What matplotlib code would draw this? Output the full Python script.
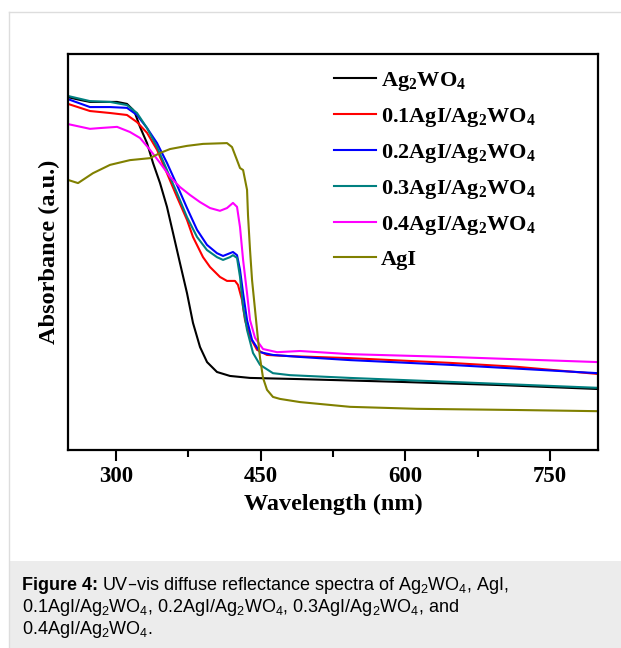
import matplotlib
matplotlib.use("Agg")
import matplotlib.pyplot as plt
from matplotlib.patches import Rectangle
from matplotlib.lines import Line2D
from matplotlib.ticker import MultipleLocator

# --- data (absorbance in arbitrary units 0..1) ---
wl_ag2wo4 = [250, 262.5, 272.8, 293.6, 300.9, 311.2, 317.5, 319.5, 324.7, 332.0, 338.2, 345.5, 352.7, 359.0,
             366.2, 373.5, 379.7, 387.0, 394.3, 404.6, 418.1, 438.9, 490.8, 594.5, 698.3, 800]
ab_ag2wo4 = [0.891, 0.884, 0.879, 0.879, 0.879, 0.874, 0.859, 0.851, 0.816, 0.775, 0.725, 0.674, 0.614, 0.548,
             0.472, 0.396, 0.321, 0.260, 0.222, 0.197, 0.187, 0.182, 0.179, 0.172, 0.164, 0.154]

wl_01 = [250, 272.8, 293.6, 311.2, 321.6, 332.0, 342.4, 352.7, 363.1, 373.5, 379.7, 390.1, 397.4, 407.7,
         415.0, 423.3, 426.4, 430.6, 433.7, 438.9, 446.1, 456.5, 480.4, 542.7, 646.4, 716.0, 800]
ab_01 = [0.874, 0.856, 0.851, 0.846, 0.828, 0.801, 0.758, 0.699, 0.639, 0.581, 0.538, 0.487, 0.462, 0.437,
         0.427, 0.427, 0.417, 0.379, 0.328, 0.285, 0.253, 0.240, 0.237, 0.232, 0.220, 0.210, 0.192]

wl_02 = [250, 272.8, 293.6, 311.2, 321.6, 332.0, 342.4, 352.7, 363.1, 373.5, 383.9, 394.2, 404.6, 410.9,
         418.1, 421.2, 425.4, 428.5, 431.7, 435.8, 441.0, 449.3, 462.7, 490.8, 542.7, 646.4, 800]
ab_02 = [0.886, 0.866, 0.866, 0.864, 0.846, 0.813, 0.775, 0.725, 0.669, 0.611, 0.556, 0.518, 0.497, 0.490,
         0.497, 0.500, 0.492, 0.455, 0.396, 0.328, 0.278, 0.247, 0.240, 0.235, 0.227, 0.215, 0.194]

wl_03 = [250, 272.8, 293.6, 311.2, 321.6, 332.0, 342.4, 352.7, 363.1, 373.5, 383.9, 394.2, 404.6, 410.9,
         418.1, 421.2, 425.4, 428.5, 431.7, 435.8, 442.0, 449.3, 462.7, 480.4, 542.7, 646.4, 800]
ab_03 = [0.894, 0.881, 0.879, 0.871, 0.851, 0.813, 0.765, 0.707, 0.649, 0.588, 0.538, 0.505, 0.487, 0.480,
         0.487, 0.492, 0.485, 0.437, 0.361, 0.303, 0.245, 0.215, 0.194, 0.189, 0.182, 0.172, 0.157]

wl_04 = [250, 272.8, 283.2, 300.9, 314.3, 324.7, 335.1, 345.5, 355.9, 366.2, 376.6, 387.0, 397.4, 407.7,
         415.0, 421.2, 425.4, 428.5, 431.7, 435.8, 438.9, 444.1, 452.4, 466.9, 490.8, 542.7, 646.4, 800]
ab_04 = [0.823, 0.811, 0.813, 0.816, 0.803, 0.788, 0.758, 0.725, 0.690, 0.664, 0.644, 0.626, 0.611, 0.604,
         0.611, 0.624, 0.614, 0.563, 0.480, 0.396, 0.328, 0.283, 0.255, 0.247, 0.250, 0.242, 0.235, 0.222]

wl_agi = [250, 260.4, 275.9, 293.6, 314.3, 335.1, 345.5, 355.9, 373.5, 390.1, 415.0, 420.2, 425.4, 428.5,
          431.7, 435.8, 436.8, 438.9, 441.0, 444.1, 447.2, 449.3, 452.4, 456.5, 462.7, 470.0, 490.8, 542.7,
          612.2, 716.0, 800]
ab_agi = [0.682, 0.674, 0.699, 0.720, 0.732, 0.737, 0.750, 0.760, 0.768, 0.773, 0.775, 0.765, 0.732, 0.712,
          0.707, 0.657, 0.593, 0.505, 0.429, 0.354, 0.278, 0.232, 0.182, 0.152, 0.134, 0.129, 0.121, 0.109,
          0.104, 0.101, 0.098]

SUB = "Ag$_\\mathregular{2}$WO$_\\mathregular{4}$"
series = [
    (SUB, wl_ag2wo4, ab_ag2wo4, "black"),
    ("0.1AgI/" + SUB, wl_01, ab_01, "#ff0000"),
    ("0.2AgI/" + SUB, wl_02, ab_02, "#0000ff"),
    ("0.3AgI/" + SUB, wl_03, ab_03, "#008080"),
    ("0.4AgI/" + SUB, wl_04, ab_04, "#ff00ff"),
    ("AgI", wl_agi, ab_agi, "#808000"),
]

W, H = 621, 648
fig = plt.figure(figsize=(W / 100, H / 100), dpi=100)

# page frame + caption box
fig.add_artist(Line2D([9 / W, 9 / W], [0, 1 - 12 / H], color="#dddddd", lw=1))
fig.add_artist(Line2D([9 / W, 1], [1 - 12 / H, 1 - 12 / H], color="#dddddd", lw=1))
fig.add_artist(Rectangle((9 / W, 0), 1 - 9 / W, 87 / H, facecolor="#ececec", edgecolor="none"))

ax = fig.add_axes([68 / W, 1 - 450 / H, (598 - 68) / W, (450 - 54) / H])
for name, x, y, c in series:
    ax.plot(x, y, color=c, lw=1.5, label=name, solid_joinstyle="round")

ax.set_xlim(250, 800)
ax.set_ylim(0, 1)
ax.xaxis.set_minor_locator(MultipleLocator(75))
ax.set_xticks([300, 450, 600, 750])
ax.set_yticks([])
ax.tick_params(axis="x", which="major", direction="out", length=8, width=1.5)
ax.tick_params(axis="x", which="minor", direction="out", length=5, width=1.5)
for s in ax.spines.values():
    s.set_linewidth(1.6)

serif = {"family": "Liberation Serif", "weight": "bold"}
for lab in ax.get_xticklabels():
    lab.set_fontfamily("Liberation Serif")
    lab.set_fontweight("bold")
    lab.set_fontsize(16.5)
ax.set_xlabel("Wavelength (nm)", fontdict=serif, fontsize=17.5, labelpad=5)
ax.set_ylabel("Absorbance (a.u.)", fontdict=serif, fontsize=17.5, labelpad=6)

leg = ax.legend(loc="upper left", bbox_to_anchor=(334 / W, 1 - 70 / H), bbox_transform=fig.transFigure,
                frameon=False, prop={"family": "Liberation Serif", "weight": "bold", "size": 16},
                handlelength=1.9, handletextpad=0.22, labelspacing=0.58, borderpad=0, borderaxespad=0)

# caption
cap = {"family": "Liberation Sans", "size": 13}
fig.canvas.draw()
r = fig.canvas.get_renderer()
t0 = fig.text(22 / W, 1 - 590 / H, "Figure 4:", fontdict=cap, weight="bold", va="baseline")
bb = t0.get_window_extent(renderer=r)
fig.text(bb.x1 / W + 4 / W, 1 - 590 / H,
         "UV\u2013vis diffuse reflectance spectra of " + SUB + ", AgI,",
         fontdict=cap, va="baseline")
fig.text(22 / W, 1 - 612 / H,
         "0.1AgI/" + SUB + ", 0.2AgI/" + SUB + ", 0.3AgI/" + SUB + ", and",
         fontdict=cap, va="baseline")
fig.text(22 / W, 1 - 634 / H, "0.4AgI/" + SUB + ".", fontdict=cap, va="baseline")

fig.savefig("out.png", dpi=100)
